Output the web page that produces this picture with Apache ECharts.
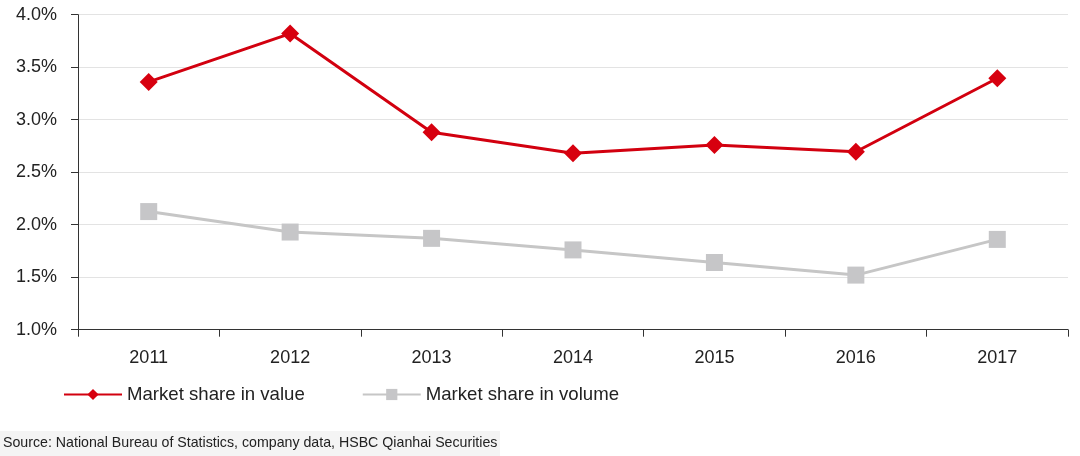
<!DOCTYPE html>
<html><head><meta charset="utf-8">
<script src="https://cdn.jsdelivr.net/npm/echarts@6/dist/echarts.min.js"></script>
<style>html,body{margin:0;padding:0;background:#fff}#c{width:1080px;height:456px}</style>
</head><body><div id="c"></div>
<script>
const categories = ['2011','2012','2013','2014','2015','2016','2017'];
const valueShare = [3.36, 3.82, 2.88, 2.68, 2.76, 2.695, 3.395];
const volumeShare = [2.125, 1.93, 1.87, 1.76, 1.64, 1.52, 1.86];
const yTicks = {min: 1.0, max: 4.0, interval: 0.5};
const seriesNames = ['Market share in value', 'Market share in volume'];
const sourceText = 'Source: National Bureau of Statistics, company data, HSBC Qianhai Securities';

const chart = echarts.init(document.getElementById('c'));
chart.setOption({
  animation: false,
  backgroundColor: '#fff',
  grid: {left: 78, right: 12, top: 14.7, bottom: 126.3, containLabel: false},
  graphic: [
    {type: 'rect', left: 0, top: 431, shape: {width: 500, height: 25}, style: {fill: '#f4f4f4'}, z: 0},
    {type: 'text', left: 3, top: 436, style: {text: sourceText, font: '14.2px "Liberation Sans", Arial', fill: '#222'}, z: 1}
  ],
  legend: {
    left: 63, top: 385, padding: 0,
    itemWidth: 58, itemHeight: 14, itemGap: 57,
    textStyle: {fontFamily: '"Liberation Sans", Arial', fontSize: 18.6, color: '#222'},
    data: seriesNames
  },
  xAxis: {
    type: 'category', data: categories, boundaryGap: true,
    axisLine: {lineStyle: {color: '#333', width: 1}},
    axisTick: {show: true, length: 7, lineStyle: {color: '#333'}},
    axisLabel: {color: '#222', fontSize: 18, fontFamily: 'Liberation Sans, Arial', margin: 19}
  },
  yAxis: {
    type: 'value', min: yTicks.min, max: yTicks.max, interval: yTicks.interval,
    axisLine: {show: true, lineStyle: {color: '#333', width: 1}},
    axisTick: {show: true, length: 7, lineStyle: {color: '#333'}},
    splitLine: {show: true, lineStyle: {color: '#e3e3e3', width: 1}},
    axisLabel: {color: '#222', fontSize: 18, fontFamily: 'Liberation Sans, Arial', margin: 21,
      formatter: v => v.toFixed(1) + '%'}
  },
  series: [
    {name: seriesNames[0], type: 'line', data: valueShare, symbol: 'diamond', symbolSize: 18,
     lineStyle: {color: '#d2000f', width: 3}, itemStyle: {color: '#d7000f'}, z: 3},
    {name: seriesNames[1], type: 'line', data: volumeShare, symbol: 'rect', symbolSize: 17,
     lineStyle: {color: '#c6c6c6', width: 3}, itemStyle: {color: '#c6c6c8'}, z: 2}
  ]
});
</script></body></html>
